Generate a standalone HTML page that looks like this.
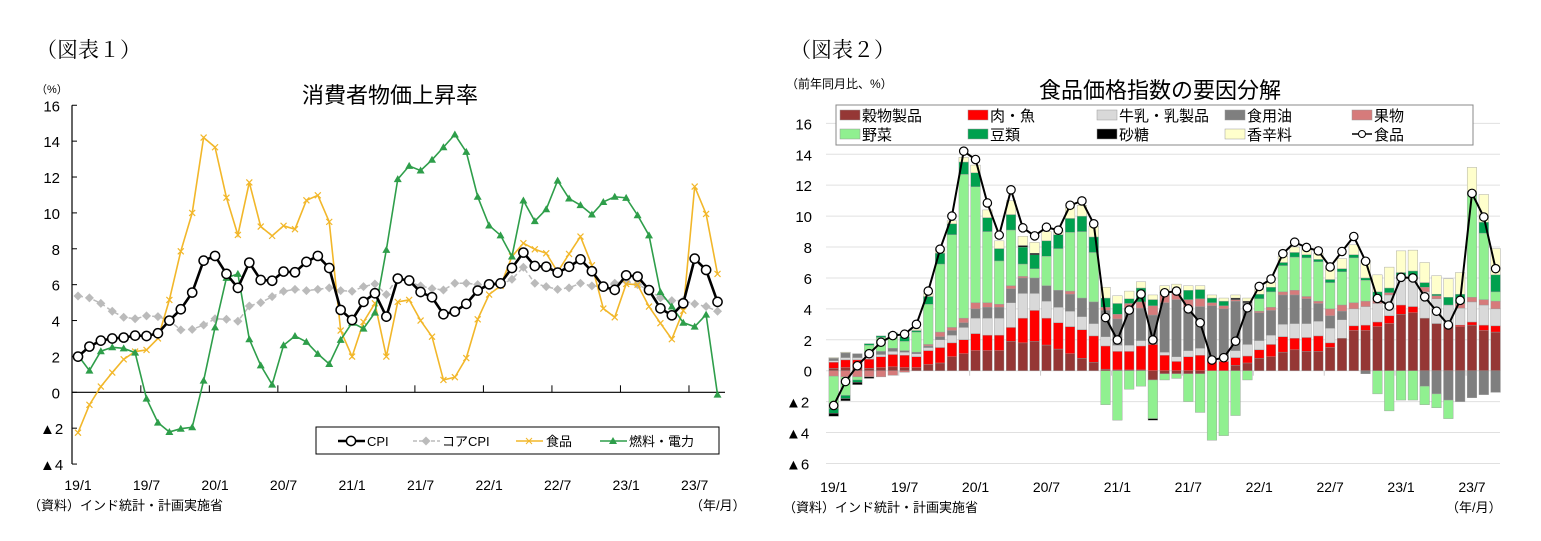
<!DOCTYPE html>
<html><head><meta charset="utf-8">
<style>
body{margin:0;background:#fff;}
svg{display:block;font-family:"Liberation Sans","Noto Sans CJK JP",sans-serif;}
</style></head>
<body>
<svg id="s" width="1541" height="541" viewBox="0 0 1541 541">
<rect width="1541" height="541" fill="#fff"/>
<text x="36" y="57" font-size="21" font-family="Liberation Serif,Noto Serif CJK SC,serif">（図表１）</text>
<text x="390" y="103" font-size="22" text-anchor="middle">消費者物価上昇率</text>
<text x="36" y="93" font-size="11">（%）</text>
<text x="790" y="57" font-size="21" font-family="Liberation Serif,Noto Serif CJK SC,serif">（図表２）</text>
<text x="1160" y="98" font-size="22" text-anchor="middle">食品価格指数の要因分解</text>
<text x="786" y="88" font-size="12">（前年同月比、%）</text>
<text x="28" y="510" font-size="13">（資料）インド統計・計画実施省</text>
<text x="690" y="510" font-size="13">（年/月）</text>
<text x="783" y="512" font-size="13">（資料）インド統計・計画実施省</text>
<text x="1446" y="512" font-size="13">（年/月）</text>
<g id="c1"></g>
<g id="c2"></g>
</svg>
<script>
const months = ["19/1","19/7","20/1","20/7","21/1","21/7","22/1","22/7","23/1","23/7"];
const yTicks1 = [16,14,12,10,8,6,4,2,0,-2,-4];
const yTicks2 = [16,14,12,10,8,6,4,2,0,-2,-4,-6];
const cpi = [1.99,2.55,2.88,3.0,3.05,3.16,3.14,3.29,4.0,4.63,5.56,7.34,7.6,6.6,5.82,7.23,6.26,6.22,6.73,6.69,7.27,7.6,6.93,4.59,4.03,5.04,5.52,4.22,6.34,6.23,5.59,5.3,4.35,4.5,4.93,5.67,6.02,6.07,6.93,7.79,7.04,7.0,6.67,7.0,7.41,6.75,5.89,5.71,6.52,6.45,5.7,4.68,4.29,4.96,7.45,6.82,5.04];
const core = [5.37,5.26,4.96,4.52,4.18,4.1,4.26,4.22,4.0,3.48,3.51,3.75,4.1,4.07,3.96,4.81,5.0,5.33,5.63,5.74,5.67,5.74,5.82,5.67,5.63,5.89,6.04,5.45,6.41,6.15,5.93,5.78,5.7,6.08,6.08,6.0,5.93,6.0,6.3,6.97,6.08,5.89,5.74,5.82,6.08,5.93,5.89,6.08,6.19,6.0,5.7,5.26,5.11,5.11,4.93,4.78,4.52];
const food = [-2.25,-0.7,0.32,1.1,1.84,2.27,2.36,3.0,5.15,7.86,10.0,14.2,13.66,10.85,8.77,11.7,9.24,8.72,9.28,9.09,10.7,10.98,9.5,3.44,1.99,3.92,4.96,1.99,5.04,5.15,4.0,3.1,0.69,0.84,1.91,4.07,5.45,5.93,7.57,8.31,7.97,7.75,6.71,7.71,8.68,7.08,4.67,4.18,6.04,6.0,4.78,3.85,2.96,4.55,11.47,9.94,6.6];
const fuel = [2.06,1.21,2.29,2.51,2.45,2.21,-0.35,-1.69,-2.21,-2.03,-1.95,0.65,3.62,6.38,6.6,2.96,1.5,0.43,2.62,3.14,2.81,2.14,1.58,2.92,3.88,3.55,4.44,7.94,11.88,12.62,12.36,12.96,13.66,14.37,13.4,10.9,9.3,8.75,7.57,10.69,9.54,10.2,11.8,10.8,10.43,9.91,10.61,10.9,10.84,9.87,8.75,5.59,4.78,3.88,3.66,4.33,-0.13];
const cereal = [0.15,0.2,0.2,0.15,0.2,0.25,0.2,0.2,0.4,0.5,0.9,1.1,1.3,1.3,1.3,1.9,1.8,1.9,1.66,1.4,1.1,0.8,0.55,0.1,0.05,0.05,0.05,-0.6,-0.2,-0.2,-0.2,-0.2,0,0,0.35,0.5,0.8,0.9,1.2,1.35,1.25,1.25,1.5,2.1,2.6,2.6,2.85,3.05,3.65,3.75,3.4,3.05,2.95,2.85,2.95,2.6,2.5];
const meat = [0.4,0.5,0.5,0.6,0.7,0.8,0.8,0.7,0.9,1.0,0.9,0.9,1.1,1.0,1.0,0.9,1.6,2.0,1.74,1.7,1.75,1.85,1.7,1.5,1.2,1.2,1.55,1.7,1.0,0.6,0.9,1.0,0.6,0.6,0.5,0.45,0.55,0.8,1.0,0.75,0.9,1.0,0.3,0,0.3,0.35,0.3,0.5,0.6,0.4,0,0,0,0.1,0.2,0.35,0.4];
const dairy = [0.1,0.15,0.15,0.2,0.15,0.2,0.2,0.2,0.2,0.5,0.5,0.8,1.0,1.1,1.1,1.6,1.6,1.1,1.1,1.0,1.0,0.85,0.8,0.6,0.4,0.4,0.35,0,0.2,0.3,0.4,0.45,0.2,0.2,0.45,0.75,0.6,0.6,0.8,0.95,0.9,0.95,0.95,1.2,1.1,1.2,1.2,1.35,1.7,1.8,1.7,1.6,1.3,1.1,1.3,1.3,1.1];
const oil = [0.15,0.3,0.25,0.2,0.2,0.2,0.1,0.1,0.1,0.2,0.3,0.3,0.6,0.7,0.7,0.9,1.0,1.0,1.0,1.1,1.1,1.2,1.4,1.7,1.7,2.4,2.1,1.9,3.2,3.7,2.8,2.7,3.4,3.2,3.2,2.7,1.8,1.6,1.9,1.85,1.6,1.15,0.8,0.55,0,-0.2,0,0,0,0,-1.0,-1.5,-1.9,-2.0,-1.75,-1.55,-1.4];
const fruit = [-0.35,-0.4,-0.4,-0.4,-0.4,-0.3,-0.1,0,0.1,0.3,0.2,0.3,0.4,0.3,0.2,0.2,0.1,0,0,0,0.2,0,0,0.2,0.3,0.3,0.4,0.6,0.5,0.5,0.5,0.5,0.2,0.2,0.1,0,0.1,0.2,0.2,0.3,0.15,0.15,0.45,0.4,0.4,0.35,0.3,0.15,0,0,0.3,0.2,0,0.3,0.3,0.35,0.5];
const veg = [-2.1,-1.2,-0.2,0.5,0.9,0.8,0.6,1.3,2.6,4.4,6.0,9.3,7.5,4.6,2.8,3.6,0.8,0.6,1.9,2.7,3.8,4.3,3.2,-2.2,-3.2,-1.2,-1.0,-2.5,-0.4,-0.3,-1.8,-2.5,-4.5,-4.2,-2.9,-0.6,0.8,1.0,1.7,2.15,2.5,2.55,1.7,2.15,2.9,1.35,-1.5,-2.6,-1.9,-1.9,-1.2,-0.9,-1.2,0,6.6,4.3,0.6];
const pulses = [-0.3,-0.2,-0.15,0.1,0.1,0.2,0.3,0.1,0.5,0.7,0.7,0.8,0.9,0.9,0.8,1.0,1.1,0.9,1.0,0.9,0.9,1.0,1.0,0.6,0.7,0.3,0.9,0.4,0.1,0,0.6,0.6,0.3,0.3,0,0,0.3,0.3,0.2,0.3,0.2,0.15,0.2,0.2,0.2,0.15,0.45,0.3,0.4,0.5,0.3,0.1,0.5,0.6,0.2,0.7,1.1];
const sugar = [-0.2,-0.15,-0.15,-0.1,0,0,0,0,0,0,0,0,0,0,0,0,0.1,0.1,0,0,0,0,0,0,0,0,0,-0.1,0,0,0,0,0,0,0.1,0.1,0,0,0,0,0,0,0,0,0,0,0,0,0,0,0,0,0,0,0,0,0];
const spices = [0.05,0.05,0,0,0,0,0,0.1,0.2,0.3,0.2,0.3,0.5,0.5,0.5,0.9,0.6,0.7,0.6,0.3,0.7,0.7,0.7,0.7,0.5,0.5,0.4,0.3,0.5,0.5,0.3,0.25,0.2,0.2,0.2,0.2,0.3,0.3,0.4,0.35,0.4,0.4,0.7,0.65,0.65,1.15,1.1,1.35,1.4,1.35,1.3,1.2,1.2,1.4,1.6,1.8,1.7];

const NS="http://www.w3.org/2000/svg";
function mk(parent,tag,attrs,txt){const e=document.createElementNS(NS,tag);for(const k in attrs)e.setAttribute(k,attrs[k]);if(txt!==undefined)e.textContent=txt;parent.appendChild(e);return e;}
function tri(x,y){return `${x},${y-4} ${x-4},${y+3} ${x+4},${y+3}`;}

// ---------- Chart 1 ----------
const c1=document.getElementById('c1');
const x1=i=>78+i*11.42;
const y1=v=>392.3-v*17.94;
mk(c1,'line',{x1:72,y1:y1(16),x2:72,y2:y1(-4),stroke:'#000','stroke-width':1.2});
mk(c1,'line',{x1:72,y1:y1(0),x2:725,y2:y1(0),stroke:'#000','stroke-width':1.2});
yTicks1.forEach(v=>{
  const t=mk(c1,'text',{x:v<0?40:60,y:y1(v)+6,'font-size':15,'text-anchor':v<0?'start':'end'},v<0?'▲'+(-v):String(v));
  
  
  mk(c1,'line',{x1:72,y1:y1(v),x2:77,y2:y1(v),stroke:'#000'});
});
months.forEach((m,k)=>{
  const xi=x1(k*6);
  const t=mk(c1,'text',{x:xi,y:490,'font-size':14,'text-anchor':'middle'},m);
  
  
  if(k>0) mk(c1,'line',{x1:xi-5.7,y1:y1(0),x2:xi-5.7,y2:y1(0)-7,stroke:'#000'});
});
function poly(arr,fx,fy){return arr.map((v,i)=>fx(i)+','+fy(v)).join(' ');}
const lCore=mk(c1,'polyline',{points:poly(core,x1,y1),fill:'none',stroke:'#bbb','stroke-width':1.5,'stroke-dasharray':'5,3'});


core.forEach((v,i)=>{const p=mk(c1,'polygon',{points:`${x1(i)},${y1(v)-4.5} ${x1(i)+4.5},${y1(v)} ${x1(i)},${y1(v)+4.5} ${x1(i)-4.5},${y1(v)}`,fill:'#bbb'});
  
  });
const lFood=mk(c1,'polyline',{points:poly(food,x1,y1),fill:'none',stroke:'#F2B72A','stroke-width':1.6});


food.forEach((v,i)=>{const g=mk(c1,'path',{d:`M${x1(i)-3},${y1(v)-3}L${x1(i)+3},${y1(v)+3}M${x1(i)+3},${y1(v)-3}L${x1(i)-3},${y1(v)+3}`,stroke:'#F2B72A','stroke-width':1.2});
  
  });
const lFuel=mk(c1,'polyline',{points:poly(fuel,x1,y1),fill:'none',stroke:'#2E9E4A','stroke-width':1.6});


fuel.forEach((v,i)=>{const p=mk(c1,'polygon',{points:tri(x1(i),y1(v)),fill:'#2E9E4A'});
  
  });
const lCpi=mk(c1,'polyline',{points:poly(cpi,x1,y1),fill:'none',stroke:'#000','stroke-width':2.6});


cpi.forEach((v,i)=>{const c=mk(c1,'circle',{cx:x1(i),cy:y1(v),r:4.6,fill:'#fff',stroke:'#000','stroke-width':1.5});
  
  });
// legend 1
const lg1=mk(c1,'g',{});


mk(lg1,'rect',{x:316,y:427,width:403,height:27,fill:'#fff',stroke:'#000'});
mk(lg1,'line',{x1:338,y1:441,x2:365,y2:441,stroke:'#000','stroke-width':2.6});
mk(lg1,'circle',{cx:351,cy:441,r:4.6,fill:'#fff',stroke:'#000','stroke-width':1.5});
mk(lg1,'text',{x:367,y:446,'font-size':13},'CPI');
mk(lg1,'line',{x1:413,y1:441,x2:440,y2:441,stroke:'#bbb','stroke-width':1.5,'stroke-dasharray':'4,2'});
mk(lg1,'polygon',{points:'426,436.5 430.5,441 426,445.5 421.5,441',fill:'#bbb'});
mk(lg1,'text',{x:442,y:446,'font-size':13},'コアCPI');
mk(lg1,'line',{x1:516,y1:441,x2:543,y2:441,stroke:'#F2B72A','stroke-width':1.6});
mk(lg1,'path',{d:'M526,438L532,444M532,438L526,444',stroke:'#F2B72A'});
mk(lg1,'text',{x:546,y:446,'font-size':13},'食品');
mk(lg1,'line',{x1:600,y1:441,x2:627,y2:441,stroke:'#2E9E4A','stroke-width':1.6});
mk(lg1,'polygon',{points:tri(613,441),fill:'#2E9E4A'});
mk(lg1,'text',{x:629,y:446,'font-size':13},'燃料・電力');

// ---------- Chart 2 ----------
const c2=document.getElementById('c2');
const x2=i=>833.7+i*11.82;
const y2=v=>370.7-v*15.46;
yTicks2.forEach(v=>{
  mk(c2,'line',{x1:826,y1:y2(v),x2:1500,y2:y2(v),stroke:'#e0e0e0','stroke-width':1});
  const t=mk(c2,'text',{x:v<0?786:812,y:y2(v)+6,'font-size':15,'text-anchor':v<0?'start':'end'},v<0?'▲'+(-v):String(v));
  
  
});
months.forEach((m,k)=>{
  const xi=x2(k*6);
  const t=mk(c2,'text',{x:xi,y:492,'font-size':14,'text-anchor':'middle'},m);
  
  
  if(k>0) mk(c2,'line',{x1:xi-5.9,y1:y2(0),x2:xi-5.9,y2:y2(0)+5,stroke:'#ccc'});
});
const comps=[['cereal',cereal,'#953735'],['meat-fish',meat,'#FF0000'],['dairy',dairy,'#D9D9D9'],['edible-oil',oil,'#7F7F7F'],['fruit',fruit,'#D67B7B'],['vegetables',veg,'#90F090'],['pulses',pulses,'#00A04E'],['sugar',sugar,'#000000'],['spices',spices,'#FFFFCC']];
for(let i=0;i<food.length;i++){
  let pos=0,neg=0;
  comps.forEach(([nm,arr,col])=>{
    const v=arr[i]; if(!v) return;
    let a,b;
    if(v>0){a=pos;b=pos+v;pos=b;}else{a=neg;b=neg+v;neg=b;}
    const r=mk(c2,'rect',{x:x2(i)-4.8,y:Math.min(y2(a),y2(b)),width:9.6,height:Math.abs(y2(a)-y2(b)),fill:col,stroke:'#999','stroke-width':0.4});
    
    
  });
}
const lF2=mk(c2,'polyline',{points:poly(food,x2,y2),fill:'none',stroke:'#000','stroke-width':2});


food.forEach((v,i)=>{const c=mk(c2,'circle',{cx:x2(i),cy:y2(v),r:4.2,fill:'#fff',stroke:'#000','stroke-width':1.2});
  
  });
// legend 2
const lg2=mk(c2,'g',{});


mk(lg2,'rect',{x:836,y:105,width:637,height:40,fill:'#fff',stroke:'#888'});
const legItems=[['穀物製品','#953735',840,115],['肉・魚','#FF0000',968,115],['牛乳・乳製品','#D9D9D9',1097,115],['食用油','#7F7F7F',1225,115],['果物','#D67B7B',1352,115],
['野菜','#90F090',840,134],['豆類','#00A04E',968,134],['砂糖','#000000',1097,134],['香辛料','#FFFFCC',1225,134]];
legItems.forEach(([t,c,x,y])=>{
  mk(lg2,'rect',{x:x,y:y-5,width:20,height:10,fill:c,stroke:'#999','stroke-width':0.5});
  mk(lg2,'text',{x:x+22,y:y+6,'font-size':15},t);
});
mk(lg2,'line',{x1:1352,y1:134,x2:1372,y2:134,stroke:'#000','stroke-width':1.5});
mk(lg2,'circle',{cx:1362,cy:134,r:3.5,fill:'#fff',stroke:'#000'});
mk(lg2,'text',{x:1374,y:140,'font-size':15},'食品');
</script>
</body></html>
